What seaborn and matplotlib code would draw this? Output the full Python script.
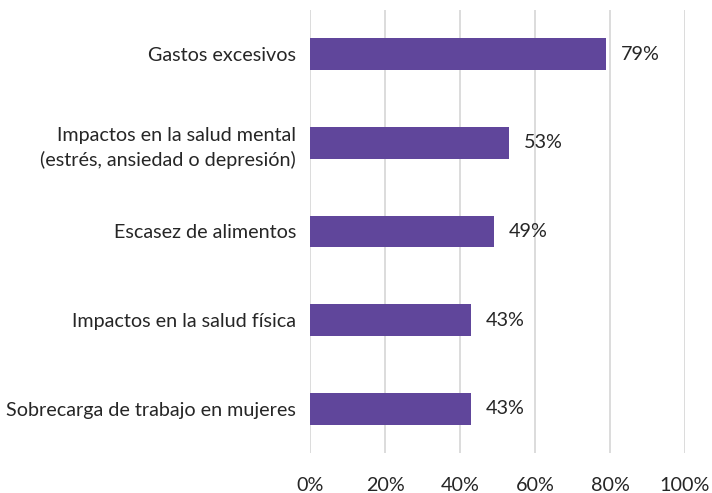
import matplotlib
matplotlib.use("Agg")
import matplotlib.pyplot as plt
import seaborn as sns
import pandas as pd

categories = [
    "Gastos excesivos",
    "Impactos en la salud mental\n(estrés, ansiedad o depresión)",
    "Escasez de alimentos",
    "Impactos en la salud física",
    "Sobrecarga de trabajo en mujeres",
]
values = [79, 53, 49, 43, 43]
tick_values = [0, 20, 40, 60, 80, 100]
tick_labels = ["0%", "20%", "40%", "60%", "80%", "100%"]

df = pd.DataFrame({"categoria": categories, "valor": values})

sns.set_theme(style="white")
plt.rcParams["font.family"] = ["Lato", "DejaVu Sans"]

FS = 14.2
TXT = "#262626"

fig = plt.figure(figsize=(7.12, 4.93), dpi=100)
ax = fig.add_axes([310 / 712, 40 / 493, 375 / 712, 443 / 493])

sns.barplot(data=df, x="valor", y="categoria", color="#60469B",
            saturation=1, width=0.36, linewidth=0, ax=ax, zorder=3)

ax.set_xlim(0, 100)
ax.set_ylim(4.5, -0.5)
ax.set_xticks(tick_values)
ax.set_xticklabels(tick_labels, fontsize=FS, color=TXT)
ax.tick_params(axis="x", length=0, pad=17)
ax.tick_params(axis="y", length=0, pad=10, labelsize=FS, labelcolor=TXT)
for lbl in ax.get_yticklabels():
    lbl.set_horizontalalignment("right")
    lbl.set_multialignment("right")
    lbl.set_linespacing(1.5)
ax.set_xlabel("")
ax.set_ylabel("")
ax.grid(axis="x", color="#D9D9D9", linewidth=1.3, zorder=0)
for s in ax.spines.values():
    s.set_visible(False)

for i, v in enumerate(values):
    ax.text(v + 4, i, f"{v}%", va="center", ha="left", fontsize=FS, color=TXT)

fig.savefig("out.png", dpi=100)
